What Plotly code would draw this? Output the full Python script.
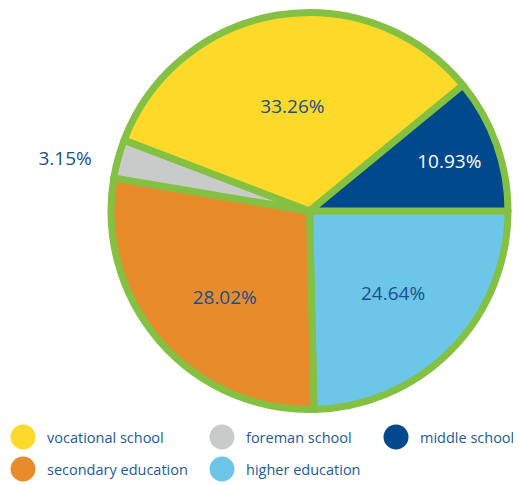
import plotly.graph_objects as go

# Data (legend order)
labels = ["vocational school", "foreman school", "middle school",
          "secondary education", "higher education"]
values = [33.26, 3.15, 10.93, 28.02, 24.64]
colors = ["#FDDA2A", "#C9CBCA", "#00498D", "#E88B2B", "#6CC6E8"]
text_colors = ["#1A4F8F", "#1A4F8F", "#FFFFFF", "#1A4F8F", "#1A4F8F"]
text_pos = ["inside", "outside", "inside", "inside", "inside"]
NB = "\u00a0"
text_tpl = ["%{value:.2f}%", "%{value:.2f}%" + NB * 4,
            "%{value:.2f}%", NB + "<br>%{value:.2f}%", "%{value:.2f}%"]

# Clockwise slice order starting at 3 o'clock
pie_order = ["higher education", "secondary education", "foreman school",
             "vocational school", "middle school"]
idx = [labels.index(l) for l in pie_order]

OFF = 8  # page body margin
W, H = 513, 477
cx, cy, r = 309.5 - OFF, 211 - OFF, 198.5

fig = go.Figure()
fig.add_trace(go.Pie(
    labels=[labels[i] for i in idx],
    values=[values[i] for i in idx],
    marker=dict(colors=[colors[i] for i in idx],
                line=dict(color="#84C142", width=7)),
    textfont=dict(color=[text_colors[i] for i in idx], size=19,
                  family="Open Sans"),
    textposition=[text_pos[i] for i in idx],
    texttemplate=[text_tpl[i] for i in idx],
    insidetextorientation="horizontal",
    sort=False,
    direction="clockwise",
    rotation=90,
    showlegend=False,
    hoverinfo="label+value",
    domain=dict(x=[(cx - r) / W, (cx + r) / W],
                y=[1 - (cy + r) / H, 1 - (cy - r) / H]),
))

# Legend drawn as circles + text
leg_x = [23, 222, 396, 23, 222]
leg_y = [437, 437, 437, 469, 469]
shapes = []
annotations = []
for lab, col, lx, ly in zip(labels, colors, leg_x, leg_y):
    rad = 12.5
    lx, ly = lx - OFF, ly - OFF
    shapes.append(dict(type="circle", xref="paper", yref="paper",
                       x0=(lx - rad) / W, x1=(lx + rad) / W,
                       y0=1 - (ly + rad) / H, y1=1 - (ly - rad) / H,
                       fillcolor=col, line=dict(width=0)))
    annotations.append(dict(text=lab, xref="paper", yref="paper",
                            x=(lx + 22) / W, y=1 - ly / H,
                            xanchor="left", yanchor="middle", showarrow=False,
                            font=dict(size=14.5, color="#1A5A9A", family="Open Sans")))

fig.update_layout(
    width=W, height=H,
    margin=dict(l=0, r=0, t=0, b=0),
    paper_bgcolor="white", plot_bgcolor="white",
    shapes=shapes, annotations=annotations,
)
fig.write_html("out.html")
